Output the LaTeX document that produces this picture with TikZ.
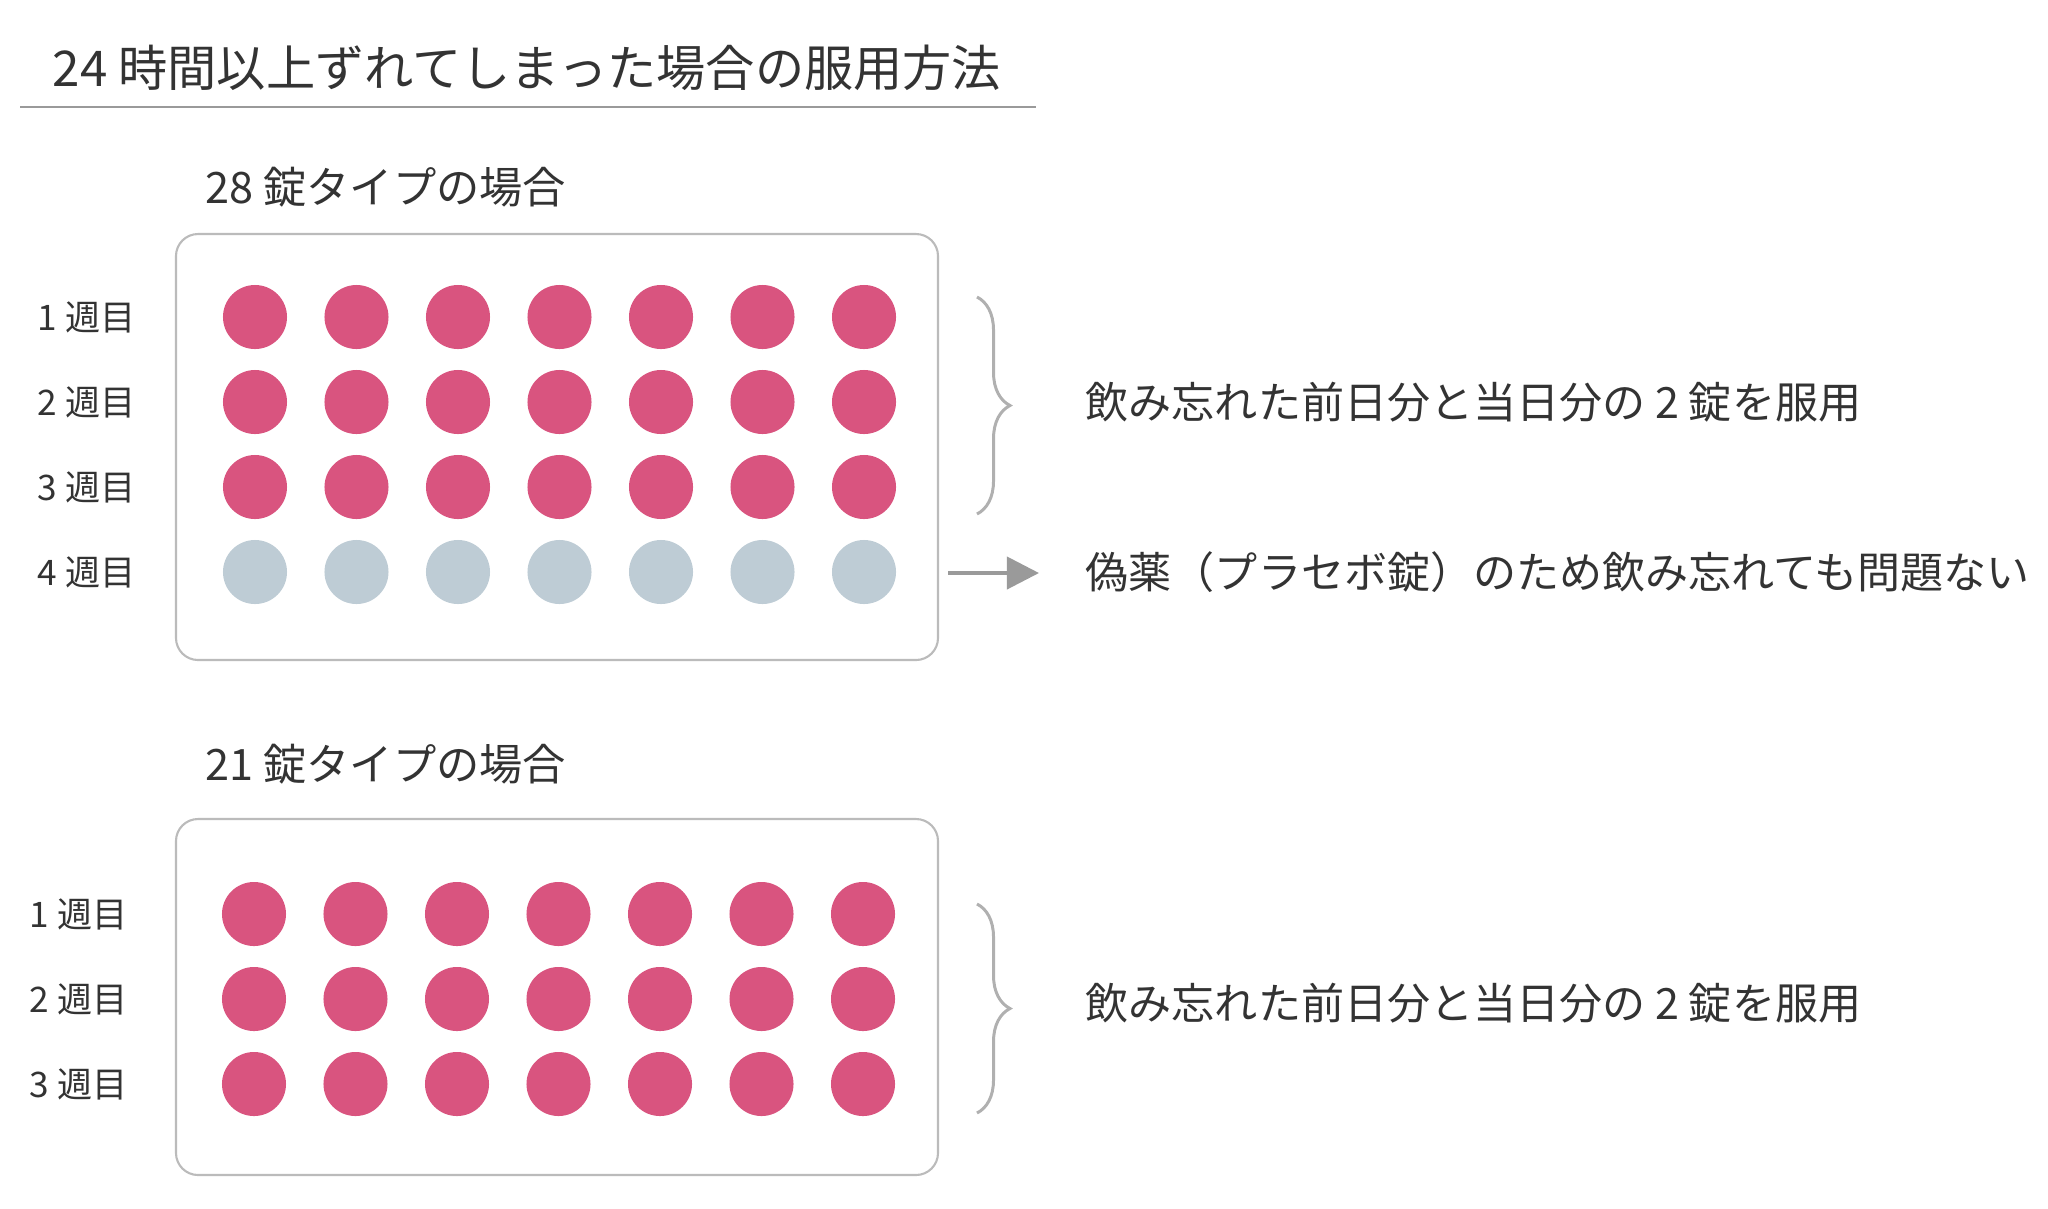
\documentclass[tikz,border=0pt]{standalone}
\usepackage{fontspec}
\setmainfont{Noto Sans CJK JP}
\usetikzlibrary{decorations.pathreplacing,arrows.meta}

\definecolor{pinkpill}{HTML}{D9547F}
\definecolor{placebo}{HTML}{BECCD5}
\definecolor{ink}{HTML}{333333}
\definecolor{rulegray}{HTML}{9A9A9A}
\definecolor{framegray}{HTML}{BBBBBB}
\definecolor{bracegray}{HTML}{B0B0B0}

\begin{document}
\begin{tikzpicture}
        [x=0.01cm, y=-0.01cm,
        pill/.style={circle, fill=pinkpill, minimum size=0.64cm, inner sep=0pt},
        fake/.style={pill, fill=placebo},
        tray/.style={draw=framegray, line width=0.6pt, rounded corners=0.22cm},
        heading/.style={anchor=west, inner sep=0pt, text=ink, font=\fontsize{14}{17}\selectfont},
        subhead/.style={anchor=west, inner sep=0pt, text=ink, font=\fontsize{12.3}{15}\selectfont},
        week/.style={anchor=west, inner sep=0pt, text=ink, font=\fontsize{10}{12}\selectfont},
        note/.style={anchor=west, inner sep=0pt, text=ink, font=\fontsize{12.25}{15}\selectfont},
        curly/.style={draw=bracegray, line width=0.85pt, decorate, decoration={brace, amplitude=0.33cm}},
        pointer/.style={draw=rulegray, line width=1.1pt, -{Triangle[length=0.32cm, width=0.32cm]}}]

        \useasboundingbox (0,0) rectangle (2048,1208);

        % Title and rule
        \node[heading] (title) at (52,68) {24 時間以上ずれてしまった場合の服用方法};
        \draw[rulegray, line width=0.6pt] (20,107) -- (1036,107);

        % 28-tablet pack
        \node[subhead] (sub28) at (205,187) {28 錠タイプの場合};
        \draw[tray] (176,234) rectangle (938,660);
        \node[week] (w28-1) at (37,317) {1 週目};
        \node[week] (w28-2) at (37,402) {2 週目};
        \node[week] (w28-3) at (37,487) {3 週目};
        \node[week] (w28-4) at (37,572) {4 週目};
        \foreach \c in {1,...,7} {
          \foreach \r in {1,2,3}
            \node[pill] (p28-\r-\c) at ({255+101.5*(\c-1)}, {317+85*(\r-1)}) {};
          \node[fake] (p28-4-\c) at ({255+101.5*(\c-1)}, 572) {};
        }

        % Notes for the 28-tablet pack
        \coordinate (b28top) at (977,297);
        \coordinate (b28bot) at (977,514);
        \draw[curly] (b28top) -- (b28bot);
        \node[note] (n28) at (1085,402) {飲み忘れた前日分と当日分の 2 錠を服用};
        \coordinate (a28start) at (948,573);
        \coordinate (a28end) at (1039,573);
        \draw[pointer] (a28start) -- (a28end);
        \node[note] (n28fake) at (1085,572) {偽薬（プラセボ錠）のため飲み忘れても問題ない};

        % 21-tablet pack
        \node[subhead] (sub21) at (205,764) {21 錠タイプの場合};
        \draw[tray] (176,819) rectangle (938,1175);
        \node[week] (w21-1) at (29,914) {1 週目};
        \node[week] (w21-2) at (29,999) {2 週目};
        \node[week] (w21-3) at (29,1084) {3 週目};
        \foreach \c in {1,...,7} {
          \foreach \r in {1,2,3}
            \node[pill] (p21-\r-\c) at ({254+101.5*(\c-1)}, {914+85*(\r-1)}) {};
        }

        % Note for the 21-tablet pack
        \coordinate (b21top) at (977,904);
        \coordinate (b21bot) at (977,1113);
        \draw[curly] (b21top) -- (b21bot);
        \node[note] (n21) at (1085,1003) {飲み忘れた前日分と当日分の 2 錠を服用};

    \end{tikzpicture}
\end{document}
